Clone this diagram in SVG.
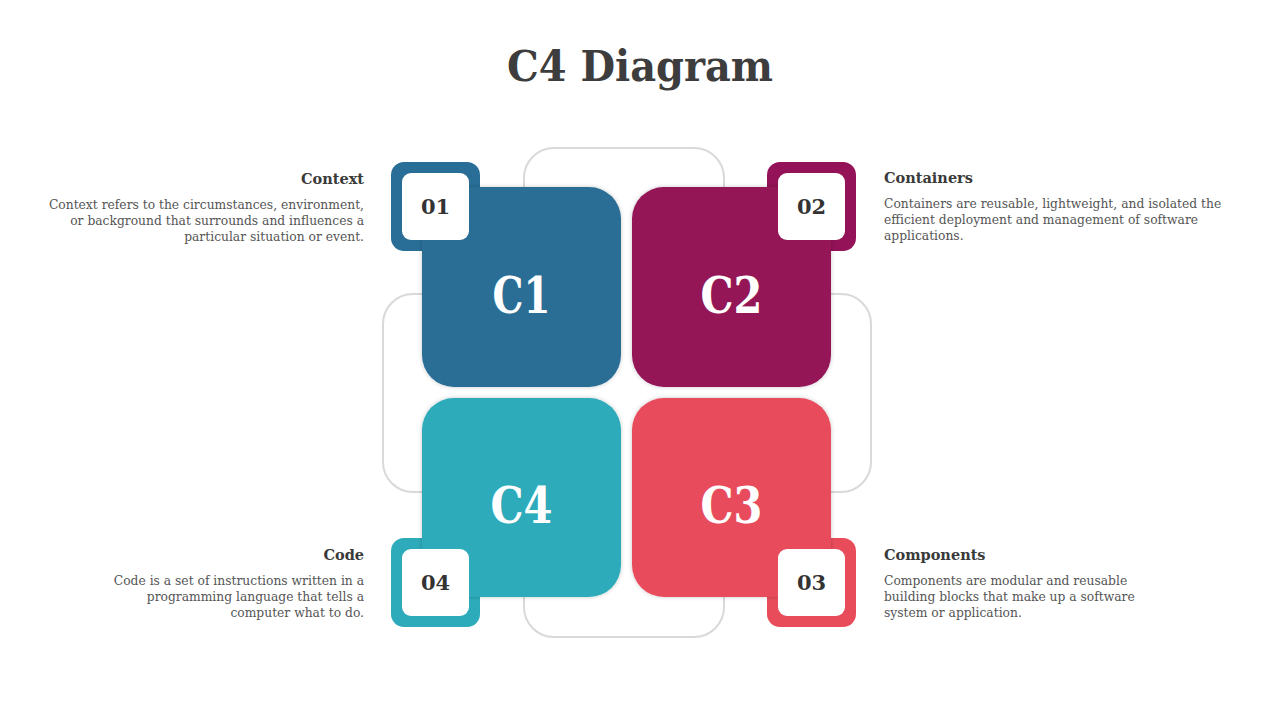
<svg xmlns="http://www.w3.org/2000/svg" width="1280" height="720" viewBox="0 0 1280 720">
<defs>
<filter id="sh" x="-10%" y="-10%" width="120%" height="120%">
<feDropShadow dx="0" dy="0" stdDeviation="2" flood-color="#000" flood-opacity="0.22"/>
</filter>
<style>
.outline{fill:none;stroke:#d9d9d9;stroke-width:2}
.big{font-family:"DejaVu Serif","Liberation Serif",serif;font-weight:bold;font-size:50px;fill:#fff;text-anchor:middle}
.num{font-family:"DejaVu Serif","Liberation Serif",serif;font-weight:bold;font-size:21px;fill:#333;text-anchor:middle}
.head{font-family:"DejaVu Serif","Liberation Serif",serif;font-weight:bold;font-size:14.5px;fill:#3a3a3a}
.body{font-family:"DejaVu Serif","Liberation Serif",serif;font-size:12.3px;fill:#555}
.r{text-anchor:end}
.title{font-family:"DejaVu Serif","Liberation Serif",serif;font-weight:bold;font-size:42px;fill:#3d3d3d;text-anchor:middle}
</style>
</defs>
<rect width="1280" height="720" fill="#fff"/>
<text class="title" x="640" y="81" textLength="266" lengthAdjust="spacingAndGlyphs">C4 Diagram</text>
<g id="connectors">
<path class="outline" d="M524,260 V178 A30,30 0 0 1 554,148 H694 A30,30 0 0 1 724,178 V260"/>
<path class="outline" d="M460,294 H413 A30,30 0 0 0 383,324 V462 A30,30 0 0 0 413,492 H460"/>
<path class="outline" d="M800,294 H841 A30,30 0 0 1 871,324 V462 A30,30 0 0 1 841,492 H800"/>
<path class="outline" d="M524,520 V607 A30,30 0 0 0 554,637 H694 A30,30 0 0 0 724,607 V520"/>
</g>
<g id="c1">
<rect x="391" y="162" width="89" height="89" rx="13" fill="#296E96"/>
<rect x="422" y="187" width="199" height="200" rx="32" fill="#296E96" filter="url(#sh)"/>
<rect x="402" y="173" width="67" height="67" rx="9" fill="#fff"/>
<text class="num" x="435.5" y="214">01</text>
<text class="big" x="521.5" y="313" textLength="58" lengthAdjust="spacingAndGlyphs">C1</text>
</g>
<g id="c2">
<rect x="767" y="162" width="89" height="89" rx="13" fill="#941257"/>
<rect x="632" y="187" width="199" height="200" rx="32" fill="#941257" filter="url(#sh)"/>
<rect x="778" y="173" width="67" height="67" rx="9" fill="#fff"/>
<text class="num" x="811.5" y="214">02</text>
<text class="big" x="731.5" y="313" textLength="62" lengthAdjust="spacingAndGlyphs">C2</text>
</g>
<g id="c4">
<rect x="391" y="538" width="89" height="89" rx="13" fill="#2EABBA"/>
<rect x="422" y="398" width="199" height="199" rx="32" fill="#2EABBA" filter="url(#sh)"/>
<rect x="402" y="549" width="67" height="67" rx="9" fill="#fff"/>
<text class="num" x="435.5" y="590">04</text>
<text class="big" x="521.5" y="523" textLength="62" lengthAdjust="spacingAndGlyphs">C4</text>
</g>
<g id="c3">
<rect x="767" y="538" width="89" height="89" rx="13" fill="#E84C5B"/>
<rect x="632" y="398" width="199" height="199" rx="32" fill="#E84C5B" filter="url(#sh)"/>
<rect x="778" y="549" width="67" height="67" rx="9" fill="#fff"/>
<text class="num" x="811.5" y="590">03</text>
<text class="big" x="731.5" y="523" textLength="62" lengthAdjust="spacingAndGlyphs">C3</text>
</g>
<g id="context-text">
<text class="head r" x="364" y="184">Context</text>
<text class="body r" x="364" y="209">Context refers to the circumstances, environment,</text>
<text class="body r" x="364" y="225">or background that surrounds and influences a</text>
<text class="body r" x="364" y="241">particular situation or event.</text>
</g>
<g id="containers-text">
<text class="head" x="884" y="183">Containers</text>
<text class="body" x="884" y="208">Containers are reusable, lightweight, and isolated the</text>
<text class="body" x="884" y="224">efficient deployment and management of software</text>
<text class="body" x="884" y="240">applications.</text>
</g>
<g id="code-text">
<text class="head r" x="364" y="560">Code</text>
<text class="body r" x="364" y="585">Code is a set of instructions written in a</text>
<text class="body r" x="364" y="601">programming language that tells a</text>
<text class="body r" x="364" y="617">computer what to do.</text>
</g>
<g id="components-text">
<text class="head" x="884" y="560">Components</text>
<text class="body" x="884" y="585">Components are modular and reusable</text>
<text class="body" x="884" y="601">building blocks that make up a software</text>
<text class="body" x="884" y="617">system or application.</text>
</g>
</svg>
